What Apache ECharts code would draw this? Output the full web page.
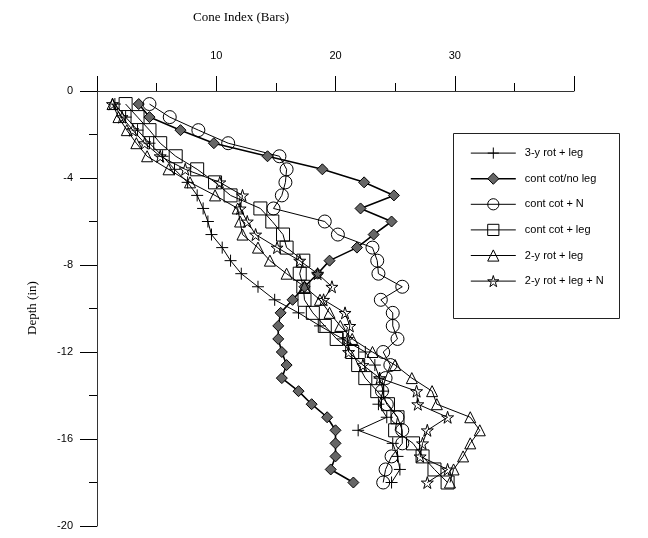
<!DOCTYPE html>
<html><head><meta charset="utf-8">
<script src="https://cdn.jsdelivr.net/npm/echarts@6/dist/echarts.min.js"></script>
<style>html,body{margin:0;padding:0;background:#fff}#c{width:648px;height:538px}</style>
</head><body><div id="c"></div>
<script>
const depth = [-0.6,-1.2,-1.8,-2.4,-3.0,-3.6,-4.2,-4.8,-5.4,-6.0,-6.6,-7.2,-7.8,-8.4,-9.0,-9.6,-10.2,-10.8,-11.4,-12.0,-12.6,-13.2,-13.8,-14.4,-15.0,-15.6,-16.2,-16.8,-17.4,-18.0];
const rot3Leg  = [1.5,2.4,3.4,4.4,5.5,6.5,7.6,8.4,8.9,9.3,9.6,10.5,11.2,12.1,13.5,14.9,16.9,18.7,20.6,22.5,23.3,23.7,24.0,23.6,24.3,21.9,24.8,25.2,25.4,24.7];
const contNoLeg = [3.5,4.4,7.0,9.8,14.3,18.9,22.4,24.9,22.1,24.7,23.2,21.8,19.5,18.5,17.4,16.4,15.4,15.2,15.2,15.5,15.9,15.5,16.9,18.0,19.3,20.0,20.0,20.0,19.6,21.5];
const contN    = [4.4,6.1,8.5,11.0,15.3,15.9,15.8,15.5,14.8,19.1,20.2,23.1,23.5,23.6,25.6,23.8,24.8,24.8,25.2,24.0,24.6,24.2,23.9,24.3,25.2,25.6,25.6,24.7,24.2,24.0];
const contLeg  = [2.4,3.4,4.4,5.3,6.6,8.4,9.9,11.2,13.7,14.7,15.6,15.9,17.3,17.0,17.3,17.4,18.1,19.1,20.1,21.4,21.9,22.5,23.5,24.4,25.2,25.0,26.5,27.3,28.3,29.4];
const rot2Leg  = [1.3,1.8,2.5,3.3,4.2,6.0,7.8,9.9,11.8,12.0,12.2,13.5,14.5,15.9,17.4,18.7,19.5,20.4,21.4,23.1,25.0,26.4,28.1,28.5,31.3,32.1,31.3,30.7,29.9,29.6];
const rot2LegN = [1.3,2.1,3.0,4.0,5.3,7.4,10.3,12.2,12.0,12.6,13.3,15.1,17.0,18.5,19.7,19.0,20.8,21.2,21.0,21.1,22.3,23.7,26.8,26.9,29.4,27.7,27.3,27.1,29.4,27.7];
const names = ['3-y rot + leg','cont cot/no leg','cont cot + N','cont cot + leg','2-y rot + leg','2-y rot + leg + N'];
const xTickLabels = [10,20,30];

const PLUS = 'path://M5,0L5,10M0,5L10,5';
const STAR = 'path://M50,0L61,35L98,35L68,57L79,91L50,70L21,91L32,57L2,35L39,35Z';
const sets = [
  {d: rot3Leg, sym: PLUS, size: 12, fill: 'transparent', lw: 1},
  {d: contNoLeg, sym: 'diamond', size: 11, fill: '#666', lw: 1.6},
  {d: contN, sym: 'circle', size: 13, fill: 'transparent', lw: 1},
  {d: contLeg, sym: 'rect', size: 13, fill: 'transparent', lw: 1},
  {d: rot2Leg, sym: 'triangle', size: 11, fill: 'transparent', lw: 1},
  {d: rot2LegN, sym: STAR, size: 12, fill: 'transparent', lw: 1}
];
const series = sets.map((s, i) => ({
  name: names[i], type: 'line', symbol: s.sym, symbolSize: s.size, showSymbol: true,
  data: s.d.map((v, j) => [v, depth[j]]),
  lineStyle: {color: '#000', width: s.lw},
  itemStyle: {color: s.fill, borderColor: '#000', borderWidth: 1},
  emphasis: {disabled: true}
}));
const legendData = sets.map((s, i) => ({
  name: names[i],
  itemStyle: {color: s.fill, borderColor: '#000', borderWidth: 1},
  lineStyle: {color: '#000', width: s.lw}
}));
const font = 'Liberation Sans';
const chart = echarts.init(document.getElementById('c'));
chart.setOption({
  animation: false,
  backgroundColor: '#fff',
  grid: {left: 97, top: 91, right: 74, bottom: 12},
  xAxis: {
    type: 'value', position: 'top', min: 0, max: 40, interval: 10,
    axisLine: {show: true, lineStyle: {color: '#333', width: 1}},
    axisTick: {show: true, inside: false, length: 15, lineStyle: {color: '#000'}},
    minorTick: {show: true, splitNumber: 2, length: 8, lineStyle: {color: '#000'}},
    splitLine: {show: false},
    axisLabel: {margin: 30, color: '#000', fontFamily: font, fontSize: 11,
      formatter: v => xTickLabels.indexOf(v) >= 0 ? String(v) : ''}
  },
  yAxis: {
    type: 'value', min: -20, max: 0, interval: 4,
    axisLine: {show: true, lineStyle: {color: '#333', width: 1}},
    axisTick: {show: true, inside: false, length: 17, lineStyle: {color: '#000'}},
    minorTick: {show: true, splitNumber: 2, length: 8, lineStyle: {color: '#000'}},
    splitLine: {show: false},
    axisLabel: {margin: 24, color: '#000', fontFamily: font, fontSize: 11}
  },
  legend: {
    orient: 'vertical', left: 470, top: 147, itemWidth: 45, itemHeight: 14, itemGap: 13.4,
    padding: 0, textStyle: {color: '#000', fontFamily: font, fontSize: 11, padding: [0,0,0,4]},
    data: legendData
  },
  graphic: [
    {type: 'rect', shape: {x: 453.5, y: 133.5, width: 166, height: 185}, style: {fill: '#fff', stroke: '#222', lineWidth: 1}, z: -1},
    {type: 'text', x: 241, y: 18, style: {text: 'Cone Index (Bars)', fill: '#000', font: '13px "Liberation Serif"', textAlign: 'center', textVerticalAlign: 'middle'}},
    {type: 'text', x: 33, y: 308, rotation: Math.PI / 2, style: {text: 'Depth (in)', fill: '#000', font: '13px "Liberation Serif"', textAlign: 'center', textVerticalAlign: 'middle'}}
  ],
  series: series
});
</script></body></html>
